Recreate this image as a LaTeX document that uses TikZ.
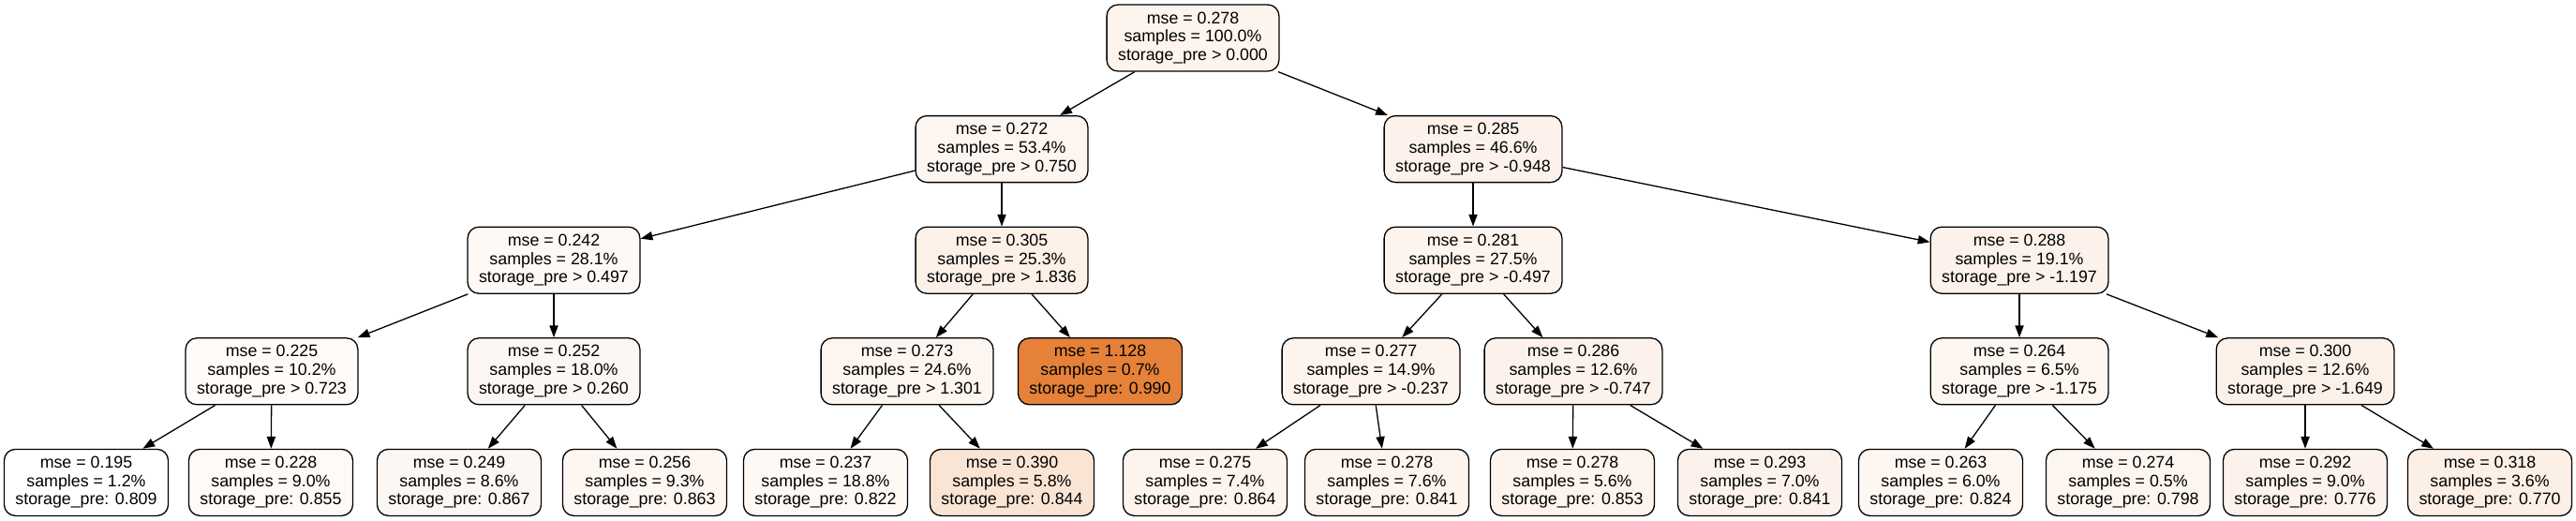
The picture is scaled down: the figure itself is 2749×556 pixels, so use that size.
\documentclass[tikz,border=0pt]{standalone}
\usepackage{fontspec}
\setmainfont{Liberation Sans}
\usetikzlibrary{arrows.meta}
\definecolor{treeOrange}{HTML}{E58139}

\begin{document}
\begin{tikzpicture}
[x=0.5pt,y=-0.5pt,
  treeNode/.style={shape=rectangle,rounded corners=6pt,draw,line width=0.65pt,
    align=center,inner xsep=6pt,inner ysep=2pt,minimum height=35.5pt,
    font=\fontsize{8.9}{9.85}\selectfont},%
  treeEdge/.style={-{Triangle[length=6.4pt,width=4.6pt]},line width=0.65pt}]
\useasboundingbox (0,0) rectangle (2749,556);
%% split nodes: name/x/depth/mse/samples/threshold/fill
\foreach \nodename/\x/\d/\m/\s/\t/\c in {0/1273/0/0.278/100.0/0.000/9,
  1a/1069/1/0.272/53.4/0.750/8, 1b/1572/1/0.285/46.6/-0.948/10,
  2a/591/2/0.242/28.1/0.497/5, 2b/1069/2/0.305/25.3/1.836/12,
  2c/1572/2/0.281/27.5/-0.497/9, 2d/2155/2/0.288/19.1/-1.197/10,
  3a/290/3/0.225/10.2/0.723/3, 3b/591/3/0.252/18.0/0.260/6,
  3c/968/3/0.273/24.6/1.301/8, 3e/1463/3/0.277/14.9/-0.237/9,
  3f/1679/3/0.286/12.6/-0.747/10, 3g/2155/3/0.264/6.5/-1.175/7,
  3h/2460/3/0.300/12.6/-1.649/11}
{
  \node (\nodename) at (\x,{40.5+118.6*\d}) [treeNode,fill=treeOrange!\c]
    {mse = \m\\samples = \s\%\\storage\_pre > \t};
}
%% leaf nodes
\foreach \nodename/\x/\d/\m/\s/\v/\c in {3d/1174/3/1.128/0.7/0.990/100,
  4a/92/4/0.195/1.2/0.809/0, 4b/289/4/0.228/9.0/0.855/4,
  4c/490/4/0.249/8.6/0.867/6, 4d/688/4/0.256/9.3/0.863/7,
  4e/881/4/0.237/18.8/0.822/5, 4f/1080/4/0.390/5.8/0.844/21,
  4g/1286/4/0.275/7.4/0.864/9, 4h/1480/4/0.278/7.6/0.841/9,
  4i/1678/4/0.278/5.6/0.853/9, 4j/1878/4/0.293/7.0/0.841/10,
  4k/2071/4/0.263/6.0/0.824/7, 4l/2271/4/0.274/0.5/0.798/8,
  4m/2460/4/0.292/9.0/0.776/10, 4n/2657/4/0.318/3.6/0.770/13}
{
  \node (\nodename) at (\x,{40.5+118.6*\d}) [treeNode,fill=treeOrange!\c]
    {mse = \m\\samples = \s\%\\storage\_pre: \v};
}
%% draw the edges
\foreach \u/\v in {0/1a, 0/1b, 1a/2a, 1a/2b, 1b/2c, 1b/2d,
  2a/3a, 2a/3b, 2b/3c, 2b/3d, 2c/3e, 2c/3f, 2d/3g, 2d/3h,
  3a/4a, 3a/4b, 3b/4c, 3b/4d, 3c/4e, 3c/4f, 3e/4g, 3e/4h,
  3f/4i, 3f/4j, 3g/4k, 3g/4l, 3h/4m, 3h/4n}
{
  \draw[treeEdge] (\u) -- (\v);
}
\end{tikzpicture}
\end{document}
